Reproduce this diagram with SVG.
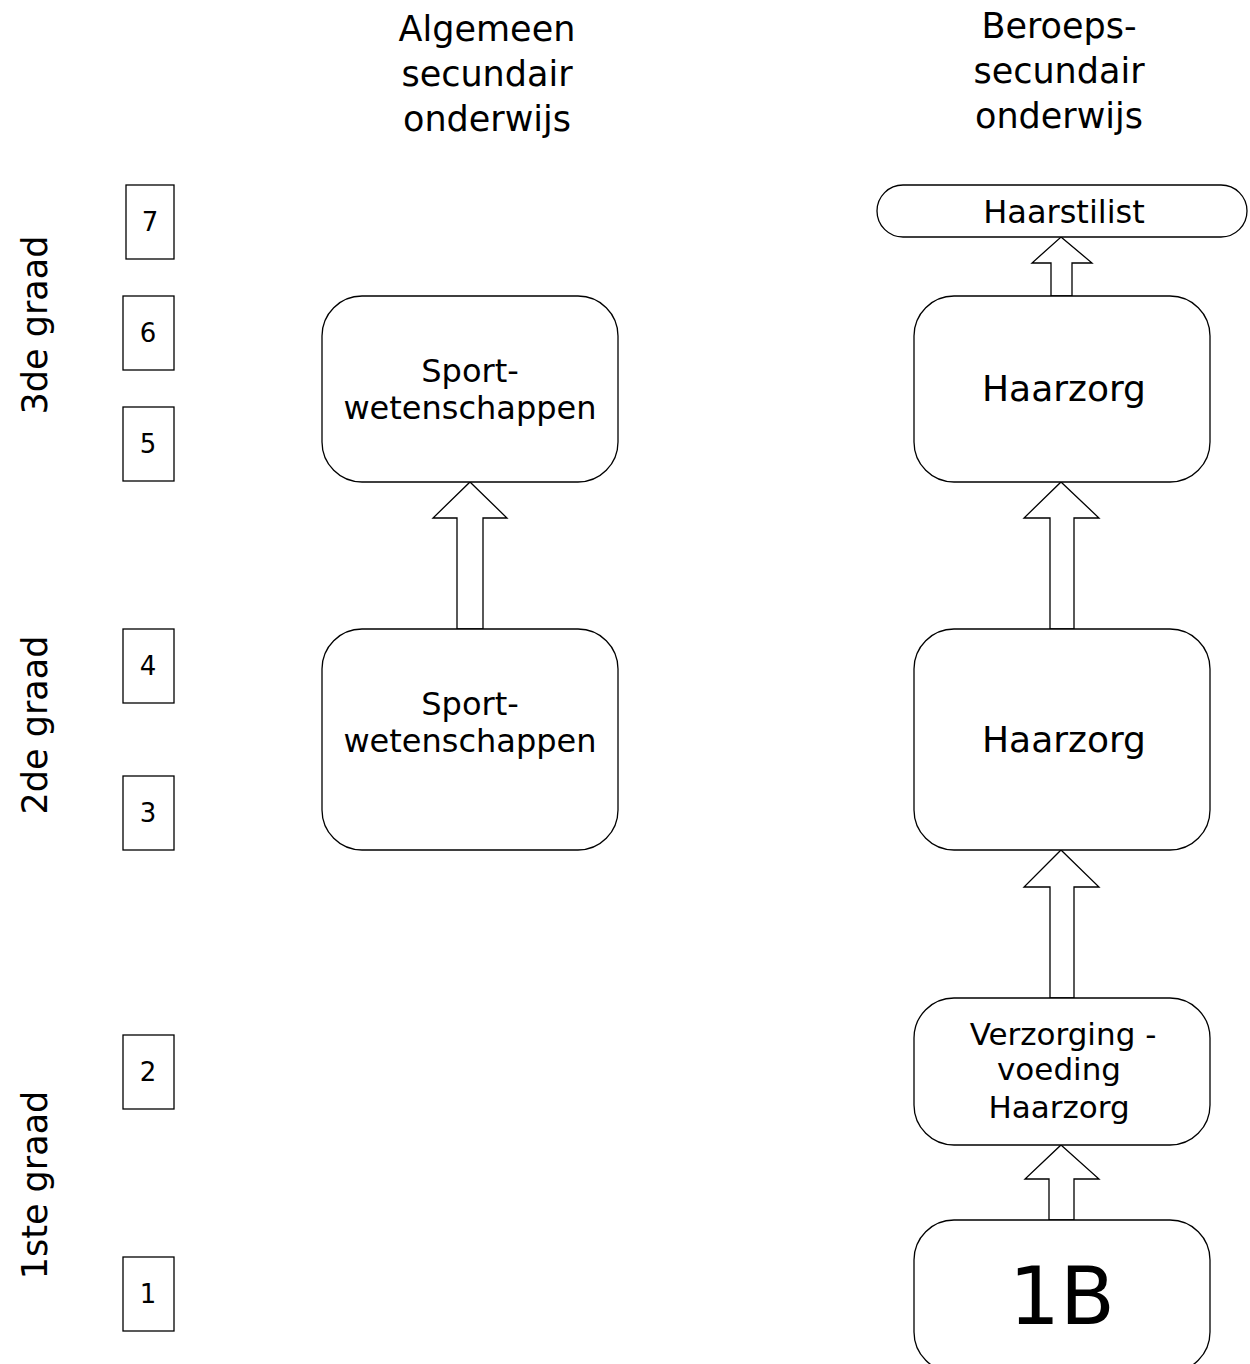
<svg xmlns="http://www.w3.org/2000/svg" width="1250" height="1364" viewBox="0 0 1250 1364">
<style>
text{font-family:"DejaVu Sans","Liberation Sans",sans-serif;fill:#000;text-anchor:middle}
.box{fill:#fff;stroke:#000;stroke-width:1.3}
.num{fill:#fff;stroke:#000;stroke-width:1.3}
.arr{fill:#fff;stroke:#000;stroke-width:1.3;stroke-linejoin:miter}
.h{font-size:35px}
.g{font-size:35px}
.t{font-size:31px}
.n{font-size:26px}
</style>
<rect width="1250" height="1364" fill="#fff"/>
<g id="headers">
<text class="h" x="487" y="41">Algemeen</text>
<text class="h" x="487" y="86">secundair</text>
<text class="h" x="487" y="131">onderwijs</text>
<text class="h" x="1059" y="38">Beroeps-</text>
<text class="h" x="1059" y="83">secundair</text>
<text class="h" x="1059" y="128">onderwijs</text>
</g>
<g id="grades">
<text class="g" transform="translate(47,325) rotate(-90)">3de graad</text>
<text class="g" transform="translate(47,725) rotate(-90)">2de graad</text>
<text class="g" transform="translate(47,1185) rotate(-90)">1ste graad</text>
</g>
<g id="years">
<g id="y7"><rect class="num" x="126" y="185" width="48" height="74"/><text class="n" x="150" y="231">7</text></g>
<g id="y6"><rect class="num" x="123" y="296" width="51" height="74"/><text class="n" x="148" y="342">6</text></g>
<g id="y5"><rect class="num" x="123" y="407" width="51" height="74"/><text class="n" x="148" y="453">5</text></g>
<g id="y4"><rect class="num" x="123" y="629" width="51" height="74"/><text class="n" x="148" y="675">4</text></g>
<g id="y3"><rect class="num" x="123" y="776" width="51" height="74"/><text class="n" x="148" y="822">3</text></g>
<g id="y2"><rect class="num" x="123" y="1035" width="51" height="74"/><text class="n" x="148" y="1081">2</text></g>
<g id="y1"><rect class="num" x="123" y="1257" width="51" height="74"/><text class="n" x="148" y="1303">1</text></g>
</g>
<g id="connectors">
<polygon class="arr" points="1061,237 1092,263 1072,263 1072,296 1051,296 1051,263 1032,263"/>
<polygon class="arr" points="1061,482 1099,518 1074,518 1074,629 1050,629 1050,518 1024,518"/>
<polygon class="arr" points="1061,850 1099,887 1074,887 1074,998 1050,998 1050,887 1024,887"/>
<polygon class="arr" points="1061,1145 1099,1179 1074,1179 1074,1220 1049,1220 1049,1179 1025,1179"/>
<polygon class="arr" points="470,482 507,518 483,518 483,629 457,629 457,518 433,518"/>
</g>
<g id="haarstilist"><rect class="box" x="877" y="185" width="370" height="52" rx="26"/><text x="1064" y="223" style="font-size:32px">Haarstilist</text></g>
<g id="haarzorg3"><rect class="box" x="914" y="296" width="296" height="186" rx="40"/><text x="1064" y="401" style="font-size:36px">Haarzorg</text></g>
<g id="haarzorg2"><rect class="box" x="914" y="629" width="296" height="221" rx="40"/><text x="1064" y="752" style="font-size:36px">Haarzorg</text></g>
<g id="verzorging"><rect class="box" x="914" y="998" width="296" height="147" rx="40"/><text class="t" x="1063" y="1045">Verzorging -</text><text class="t" x="1059" y="1080">voeding</text><text class="t" x="1059" y="1118">Haarzorg</text></g>
<g id="b1"><rect class="box" x="914" y="1220" width="296" height="152" rx="40"/><text x="1062" y="1324" style="font-size:80px">1B</text></g>
<g id="sport3"><rect class="box" x="322" y="296" width="296" height="186" rx="40"/><text class="t" x="470" y="382" style="font-size:32px">Sport-</text><text class="t" x="470" y="419" style="font-size:32px">wetenschappen</text></g>
<g id="sport2"><rect class="box" x="322" y="629" width="296" height="221" rx="40"/><text class="t" x="470" y="715" style="font-size:32px">Sport-</text><text class="t" x="470" y="752" style="font-size:32px">wetenschappen</text></g>
</svg>
